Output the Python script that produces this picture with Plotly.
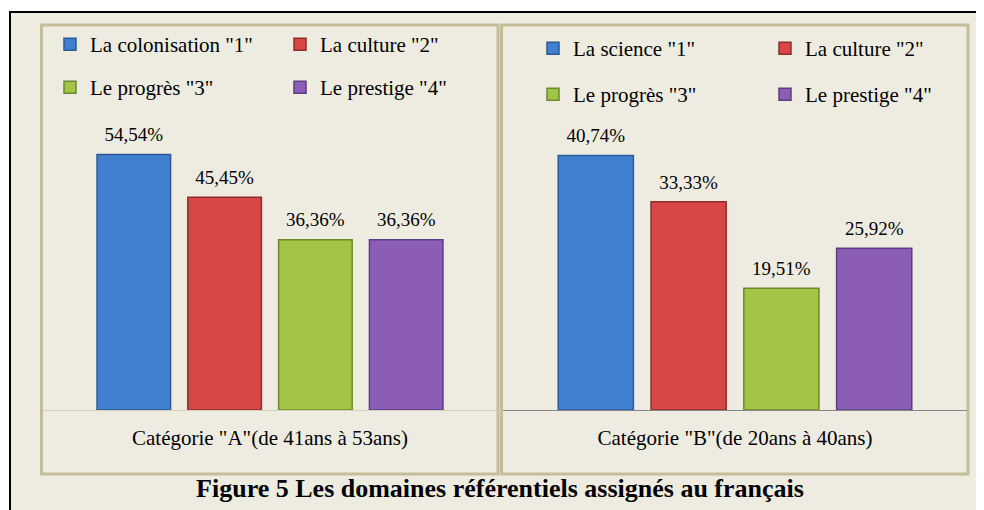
import plotly.graph_objects as go

# the page body has an 8px margin, so the figure fills the rest of the window
OFF = 8
W, H = 984 - OFF, 510 - OFF

# ---- data ----
cat_A = ['Catégorie "A"(de 41ans à 53ans)']
cat_B = ['Catégorie "B"(de 20ans à 40ans)']
names_A = ['La colonisation "1"', 'La culture "2"', 'Le progrès "3"', 'Le prestige "4"']
names_B = ['La science "1"', 'La culture "2"', 'Le progrès "3"', 'Le prestige "4"']
values_A = [54.54, 45.45, 36.36, 36.36]
values_B = [40.74, 33.33, 19.51, 25.92]
fill_colors = ["#4180D0", "#D94646", "#A2C545", "#8B5DB7"]
edge_colors = ["#2B5A96", "#8F2D2C", "#6B8A2C", "#5B3E82"]

FONT = "Liberation Serif"
BG = "#EEECE1"
PANEL_LINE = "#C4BD97"


def px(x):
    return (x - OFF) / W


def py(y):
    return 1 - (y - OFF) / H


fig = go.Figure()


def add_panel(cats, names, values, xa, ya, leg_a, leg_b):
    for i in range(4):
        fig.add_trace(go.Bar(
            x=cats, y=[values[i]], name=names[i],
            marker=dict(color=fill_colors[i], line=dict(color=edge_colors[i], width=1.5)),
            offsetgroup=str(i),
            xaxis=xa, yaxis=ya,
            legend=leg_a if i < 2 else leg_b,
            hoverinfo="skip",
        ))
    for i in range(4):
        fig.add_trace(go.Scatter(
            x=cats, y=[values[i]], mode="markers+text",
            offsetgroup=str(i),
            marker=dict(size=12, color="rgba(0,0,0,0)"),
            texttemplate="%{y:.2f}%", textposition="top center",
            textfont=dict(family=FONT, size=19, color="black"),
            cliponaxis=False, showlegend=False, hoverinfo="skip",
            xaxis=xa, yaxis=ya,
        ))


add_panel(cat_A, names_A, values_A, "x", "y", "legend", "legend2")
add_panel(cat_B, names_B, values_B, "x2", "y2", "legend3", "legend4")

shapes = [
    # outer frame
    dict(type="rect", xref="paper", yref="paper", layer="below",
         x0=px(10), x1=px(1000), y0=py(12), y1=py(530),
         line=dict(color="black", width=2), fillcolor=BG),
    # left panel
    dict(type="rect", xref="paper", yref="paper", layer="below",
         x0=px(41.5), x1=px(498), y0=py(25), y1=py(474),
         line=dict(color=PANEL_LINE, width=3), fillcolor=BG),
    # right panel
    dict(type="rect", xref="paper", yref="paper", layer="below",
         x0=px(501.5), x1=px(968), y0=py(25), y1=py(474),
         line=dict(color=PANEL_LINE, width=3), fillcolor=BG),
]

leg_common = dict(orientation="h", xanchor="left", yanchor="top",
                  bgcolor="rgba(0,0,0,0)", borderwidth=0,
                  font=dict(family=FONT, size=21, color="black"),
                  entrywidthmode="pixels", itemwidth=30)

axis_font = dict(family=FONT, size=21, color="black")

fig.update_layout(
    width=W, height=H,
    margin=dict(l=0, r=0, t=0, b=0, autoexpand=False),
    paper_bgcolor="white", plot_bgcolor="rgba(0,0,0,0)",
    separators=", ",
    barmode="group", bargap=0.2, bargroupgap=0.19,
    scattermode="group", scattergap=0.2,
    showlegend=True,
    shapes=shapes,
    xaxis=dict(domain=[px(43), px(497)], showline=True, linecolor="#D6D1BC", linewidth=1,
               ticks="", tickfont=axis_font, ticklabelstandoff=9, showgrid=False,
               zeroline=False, fixedrange=True),
    yaxis=dict(domain=[py(410), py(129)], range=[0, 60], visible=False, fixedrange=True),
    xaxis2=dict(domain=[px(503), px(967)], showline=True, linecolor="#868686", linewidth=1,
                ticks="", tickfont=axis_font, ticklabelstandoff=9, showgrid=False,
                zeroline=False, fixedrange=True, anchor="y2"),
    yaxis2=dict(domain=[py(410), py(129)], range=[0, 45], visible=False, fixedrange=True,
                anchor="x2"),
    legend=dict(x=px(50), y=py(24), entrywidth=185, **leg_common),
    legend2=dict(x=px(50), y=py(67), entrywidth=185, **leg_common),
    legend3=dict(x=px(533), y=py(28), entrywidth=187, **leg_common),
    legend4=dict(x=px(533), y=py(74), entrywidth=187, **leg_common),
    title=dict(text="<b>Figure 5 Les domaines référentiels assignés au français</b>",
               x=px(500), xanchor="center", y=1 - (488 - OFF) / H, yanchor="middle",
               xref="paper", yref="container",
               font=dict(family=FONT, size=26, color="black")),
)

fig.write_html("out.html")
